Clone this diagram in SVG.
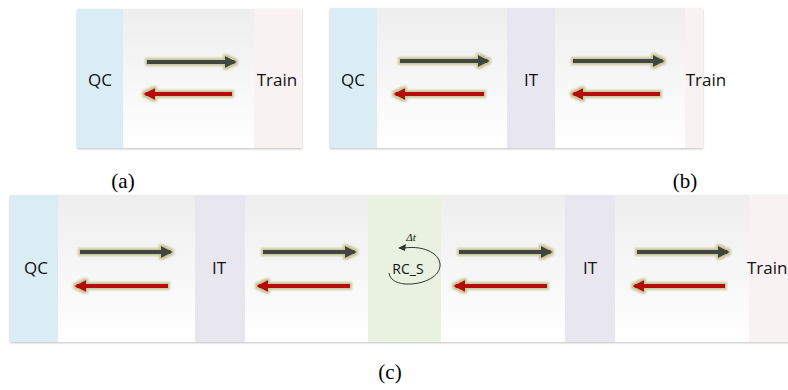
<svg xmlns="http://www.w3.org/2000/svg" width="788" height="390" viewBox="0 0 788 390">
  <defs>
    <linearGradient id="bg" x1="0" y1="0" x2="0" y2="1">
      <stop offset="0" stop-color="#eeeeee"/>
      <stop offset="1" stop-color="#ffffff"/>
    </linearGradient>
    <filter id="glow" x="-20%" y="-200%" width="140%" height="500%">
      <feMorphology in="SourceAlpha" operator="dilate" radius="1.5" result="d"/>
      <feGaussianBlur in="d" stdDeviation="1.2" result="b"/>
      <feFlood flood-color="#c9c79a"/>
      <feComposite in2="b" operator="in" result="g"/>
      <feMerge><feMergeNode in="g"/><feMergeNode in="SourceGraphic"/></feMerge>
    </filter>
    <filter id="shadow" x="-5%" y="-5%" width="110%" height="110%">
      <feGaussianBlur in="SourceAlpha" stdDeviation="1"/>
      <feOffset dx="0" dy="1" result="s"/>
      <feComponentTransfer><feFuncA type="linear" slope="0.25"/></feComponentTransfer>
      <feMerge><feMergeNode/><feMergeNode in="SourceGraphic"/></feMerge>
    </filter>
    <marker id="hg" viewBox="0 0 10 10" refX="8" refY="5" markerWidth="3" markerHeight="3" orient="auto" markerUnits="strokeWidth">
      <path d="M0,0 L10,5 L0,10 Z" fill="#3f4640"/>
    </marker>
    <marker id="hr" viewBox="0 0 10 10" refX="8" refY="5" markerWidth="3" markerHeight="3" orient="auto" markerUnits="strokeWidth">
      <path d="M0,0 L10,5 L0,10 Z" fill="#b3100f"/>
    </marker>
  </defs>
  <style>
    .panel { fill: url(#bg); filter: url(#shadow); }
    .qc { fill: #dbedf4; }
    .it { fill: #e8e6ef; }
    .rc { fill: #e9f1e0; }
    .tr { fill: #f9f2f2; }
    .lbl { font-family: "Open Sans", "Noto Sans", sans-serif; font-size: 17px; fill: #111; text-anchor: middle; }
    .cap { font-family: "Liberation Serif", serif; font-size: 21px; fill: #000; text-anchor: middle; }
    .fwd { stroke: #3f4640; stroke-width: 4; fill: none; marker-end: url(#hg); }
    .bwd { stroke: #b3100f; stroke-width: 4; fill: none; marker-end: url(#hr); }
    .conn { filter: url(#glow); }
  </style>

  <!-- (a) QC to train -->
  <g id="panel-a">
    <rect class="panel" x="77" y="9" width="225" height="139"/>
    <g id="a-qc"><rect class="qc" x="77" y="9" width="46" height="139"/><text class="lbl" x="100" y="86">QC</text></g>
    <g id="a-train"><rect class="tr" x="254" y="9" width="48" height="139"/><text class="lbl" x="277" y="86">Train</text></g>
    <g class="conn">
      <line class="fwd" x1="147" y1="62" x2="234.5" y2="62"/>
      <line class="bwd" x1="232" y1="94" x2="145.5" y2="94"/>
    </g>
    <text class="cap" x="123" y="188">(a)</text>
  </g>

  <!-- (b) QC to IT to train -->
  <g id="panel-b">
    <rect class="panel" x="330" y="8" width="373" height="140"/>
    <g id="b-qc"><rect class="qc" x="330" y="8" width="47" height="140"/><text class="lbl" x="353" y="86">QC</text></g>
    <g id="b-it"><rect class="it" x="507" y="8" width="48" height="140"/><text class="lbl" x="531" y="86">IT</text></g>
    <g id="b-train"><rect class="tr" x="685" y="8" width="18" height="140"/><text class="lbl" x="706" y="86">Train</text></g>
    <g class="conn">
      <line class="fwd" x1="400" y1="61" x2="487.5" y2="61"/>
      <line class="bwd" x1="484" y1="94" x2="395.5" y2="94"/>
      <line class="fwd" x1="573" y1="61" x2="662.5" y2="61"/>
      <line class="bwd" x1="660" y1="94" x2="573.5" y2="94"/>
    </g>
    <text class="cap" x="685" y="188">(b)</text>
  </g>

  <!-- (c) QC to IT to RC_S to IT to train -->
  <g id="panel-c">
    <rect class="panel" x="10" y="195" width="790" height="147"/>
    <g id="c-qc"><rect class="qc" x="10" y="195" width="48" height="147"/><text class="lbl" x="36" y="274">QC</text></g>
    <g id="c-it1"><rect class="it" x="195" y="195" width="50" height="147"/><text class="lbl" x="219" y="274">IT</text></g>
    <g id="c-rcs">
      <rect class="rc" x="368" y="195" width="73" height="147"/>
      <text class="lbl" x="408" y="274" style="font-size:14px">RC_S</text>
      <path d="M404,248 C426,245 441,255 440,266 C439,278 421,285 405,284 C395,283 390,279 389,273" fill="none" stroke="#333" stroke-width="1"/>
      <path d="M398,248 L406,244 L405,251 Z" fill="#333"/>
      <text x="411" y="241" style="font-family:'Liberation Serif',serif;font-size:11px;font-style:italic;fill:#111" text-anchor="middle">Δt</text>
    </g>
    <g id="c-it2"><rect class="it" x="565" y="195" width="50" height="147"/><text class="lbl" x="590" y="274">IT</text></g>
    <g id="c-train"><rect class="tr" x="749" y="195" width="39" height="147"/><text class="lbl" x="747" y="274" style="text-anchor:start">Train</text></g>
    <g class="conn">
      <line class="fwd" x1="80" y1="252" x2="170.5" y2="252"/>
      <line class="bwd" x1="168" y1="286" x2="76.5" y2="286"/>
      <line class="fwd" x1="263" y1="252" x2="354.5" y2="252"/>
      <line class="bwd" x1="350" y1="286" x2="258.5" y2="286"/>
      <line class="fwd" x1="459" y1="252" x2="550.5" y2="252"/>
      <line class="bwd" x1="547" y1="286" x2="455.5" y2="286"/>
      <line class="fwd" x1="637" y1="252" x2="727.5" y2="252"/>
      <line class="bwd" x1="725" y1="286" x2="634.5" y2="286"/>
    </g>
    <text class="cap" x="390" y="379">(c)</text>
  </g>
</svg>
